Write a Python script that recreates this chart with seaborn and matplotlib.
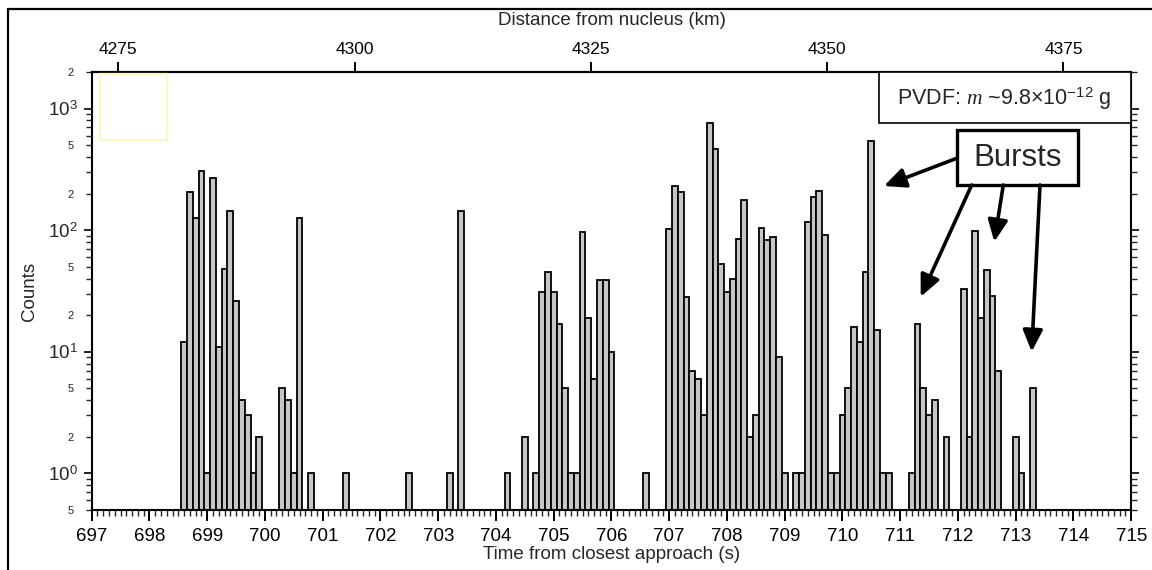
import numpy as np
import pandas as pd
import matplotlib
matplotlib.use('Agg')
import matplotlib.pyplot as plt
import seaborn as sns
from matplotlib.ticker import (FixedLocator, FuncFormatter, MultipleLocator,
                               LogLocator, NullLocator)
from matplotlib.lines import Line2D
from matplotlib.patches import Rectangle, FancyArrowPatch

# ---------------- data ----------------
times = [698.6, 698.7, 698.8, 698.9, 699.0, 699.1, 699.2, 699.3, 699.4, 699.5,
         699.6, 699.7, 699.8, 699.9, 700.3, 700.4, 700.5, 700.6, 700.8, 701.4,
         702.5, 703.2, 703.4, 704.2, 704.5, 704.7, 704.8, 704.9, 705.0, 705.1,
         705.2, 705.3, 705.4, 705.5, 705.6, 705.7, 705.8, 705.9, 706.0, 706.6,
         707.0, 707.1, 707.2, 707.3, 707.4, 707.5, 707.6, 707.7, 707.8, 707.9,
         708.0, 708.1, 708.2, 708.3, 708.4, 708.5, 708.6, 708.7, 708.8, 708.9,
         709.0, 709.2, 709.3, 709.4, 709.5, 709.6, 709.7, 709.8, 709.9, 710.0,
         710.1, 710.2, 710.3, 710.4, 710.5, 710.6, 710.7, 710.8, 711.2, 711.3,
         711.4, 711.5, 711.6, 711.8, 712.1, 712.2, 712.3, 712.4, 712.5, 712.6,
         712.7, 713.0, 713.1, 713.3]
counts = [12, 207, 127, 309, 1, 267, 11, 48, 144, 26,
          4, 3, 1, 2, 5, 4, 1, 127, 1, 1,
          1, 1, 144, 1, 2, 1, 31, 45, 31, 17,
          5, 1, 1, 96, 19, 6, 39, 39, 10, 1,
          103, 230, 205, 28, 7, 6, 3, 762, 467, 53,
          31, 40, 85, 177, 2, 3, 105, 83, 88, 9,
          1, 1, 1, 116, 186, 211, 91, 1, 1, 3,
          5, 16, 12, 45, 541, 15, 1, 1, 1, 17,
          5, 3, 4, 2, 33, 2, 98, 19, 47, 29,
          7, 2, 1, 5]
bin_width = 0.1
time_ticks = list(range(697, 716))
distance_ticks = [4275, 4300, 4325, 4350, 4375]
decade_ticks = [1, 10, 100, 1000]
# distance (km) at time t_ref and relative speed (km/s)
d_ref_km = 4275.0
t_ref_s = 697.461
speed_kms = 6.11

x_label = "Time from closest approach (s)"
top_label = "Distance from nucleus (km)"
y_label = "Counts"
pvdf_text = "PVDF: $m$ ~9.8×10$^{-12}$ g"
burst_text = "Bursts"

# ---------------- style ----------------
sns.set_theme(style="ticks")
plt.rcParams['font.family'] = ['Liberation Sans', 'DejaVu Sans']
plt.rcParams['mathtext.fontset'] = 'custom'
plt.rcParams['mathtext.rm'] = 'Liberation Sans'
plt.rcParams['mathtext.it'] = 'Liberation Serif:italic'
plt.rcParams['mathtext.bf'] = 'Liberation Sans:bold'

W, H = 1152, 570
fig = plt.figure(figsize=(W / 100, H / 100), dpi=100)
fig.patch.set_facecolor('white')


def F(x, y):
    return (x / W, 1 - y / H)


ax_l, ax_r, ax_t, ax_b = 91.7, 1131.2, 72, 510
ax = fig.add_axes([ax_l / W, 1 - ax_b / H, (ax_r - ax_l) / W, (ax_b - ax_t) / H])
ax.set_facecolor('white')

df = pd.DataFrame({"time": times, "count": counts})
edges = [float(e) for e in np.arange(min(times) - bin_width / 2,
                                     max(times) + bin_width, bin_width)]
sns.histplot(data=df, x="time", weights="count", bins=edges, ax=ax, stat='count',
             color='#c6c6c6', edgecolor='black', linewidth=1.3, alpha=1)

ax.set_yscale('log')
ax.set_xlim(697, 715)
ax.set_ylim(0.5, 2000)

for s in ax.spines.values():
    s.set_visible(True)
    s.set_linewidth(1.5)
    s.set_color('black')

# x ticks
ax.xaxis.set_major_locator(FixedLocator(time_ticks))
ax.xaxis.set_major_formatter(FuncFormatter(lambda v, p: f"{int(round(v))}"))
ax.xaxis.set_minor_locator(MultipleLocator(0.1))
ax.tick_params(axis='x', which='major', direction='out', length=8, width=1.4,
               labelsize=13.5, pad=5, colors='black', top=False)
ax.tick_params(axis='x', which='minor', direction='out', length=4, width=1.0,
               top=False, bottom=True)

# y ticks
ax.yaxis.set_major_locator(FixedLocator(decade_ticks))
ax.yaxis.set_major_formatter(FuncFormatter(
    lambda v, p: "$10^{%d}$" % int(round(np.log10(v)))))
ax.yaxis.set_minor_locator(LogLocator(base=10, subs=range(2, 10), numticks=20))


def minor_fmt(v, p):
    if v <= 0:
        return ''
    m = v / 10 ** np.floor(np.log10(v) + 1e-9)
    m = int(round(m))
    return str(m) if m in (2, 5) else ''


ax.yaxis.set_minor_formatter(FuncFormatter(minor_fmt))
ax.tick_params(axis='y', which='major', direction='out', length=6, width=1.4,
               labelsize=13.5, pad=4, left=True, right=True, labelright=False)
ax.tick_params(axis='y', which='minor', direction='out', length=4, width=1.0,
               labelsize=8, pad=9, left=True, right=True, labelright=False)

ax.set_xlabel(x_label, fontsize=13.5, labelpad=1)
ax.set_ylabel(y_label, fontsize=13.5, labelpad=7)
ax.grid(False)


# top axis : distance from nucleus
def t2d(t):
    return d_ref_km + speed_kms * (np.asarray(t) - t_ref_s)


def d2t(d):
    return t_ref_s + (np.asarray(d) - d_ref_km) / speed_kms


sec = ax.secondary_xaxis('top', functions=(t2d, d2t))
sec.set_xticks(distance_ticks)
sec.xaxis.set_minor_locator(NullLocator())
sec.tick_params(axis='x', which='major', direction='out', length=7, width=1.4,
                labelsize=12.5, pad=4, colors='black')
sec.spines['top'].set_linewidth(1.5)
sec.set_xlabel(top_label, fontsize=13.5, labelpad=12)

# ---------------- decorations ----------------
# faint yellow empty box top-left
x0, y0 = F(100, 140)
x1, y1 = F(166.7, 74)
fig.add_artist(Rectangle((x0, y0), x1 - x0, y1 - y0, transform=fig.transFigure,
                         facecolor='none', edgecolor='#fbf8c0', lw=1.6, zorder=3))

# PVDF label box
x0, y0 = F(879.3, 123.3)
x1, y1 = F(ax_r, ax_t)
fig.add_artist(Rectangle((x0, y0), x1 - x0, y1 - y0, transform=fig.transFigure,
                         facecolor='white', edgecolor='black', lw=1.2, zorder=3))
fig.text(*F(1004, 99), pvdf_text, ha='center', va='center', fontsize=15.5,
         zorder=4)

# Bursts box
x0, y0 = F(956.7, 185)
x1, y1 = F(1078.3, 130)
fig.add_artist(Rectangle((x0, y0), x1 - x0, y1 - y0, transform=fig.transFigure,
                         facecolor='white', edgecolor='black', lw=2.4, zorder=4))
fig.text(*F(1017.5, 158), burst_text, ha='center', va='center', fontsize=22.5,
         zorder=5)

arrows = [((956.7, 158.3), (884, 186)),
          ((971.7, 185), (920.7, 296.7)),
          ((1003.3, 185), (994.3, 241.7)),
          ((1040, 185), (1031.7, 351.7))]
for start, tip in arrows:
    fig.add_artist(FancyArrowPatch(F(*start), F(*tip), transform=fig.transFigure,
                                   arrowstyle='-|>,head_length=0.65,head_width=0.3',
                                   mutation_scale=20, lw=2.6, color='black',
                                   shrinkA=0, shrinkB=0, zorder=4))

# outer frame (top and left lines)
fig.add_artist(Line2D([F(8, 9)[0], 1.0], [F(8, 9)[1]] * 2,
                      transform=fig.transFigure, color='black', lw=1.6))
fig.add_artist(Line2D([F(8, 9)[0]] * 2, [F(8, 9)[1], 0.0],
                      transform=fig.transFigure, color='black', lw=1.6))

fig.savefig('out.png', dpi=100)
